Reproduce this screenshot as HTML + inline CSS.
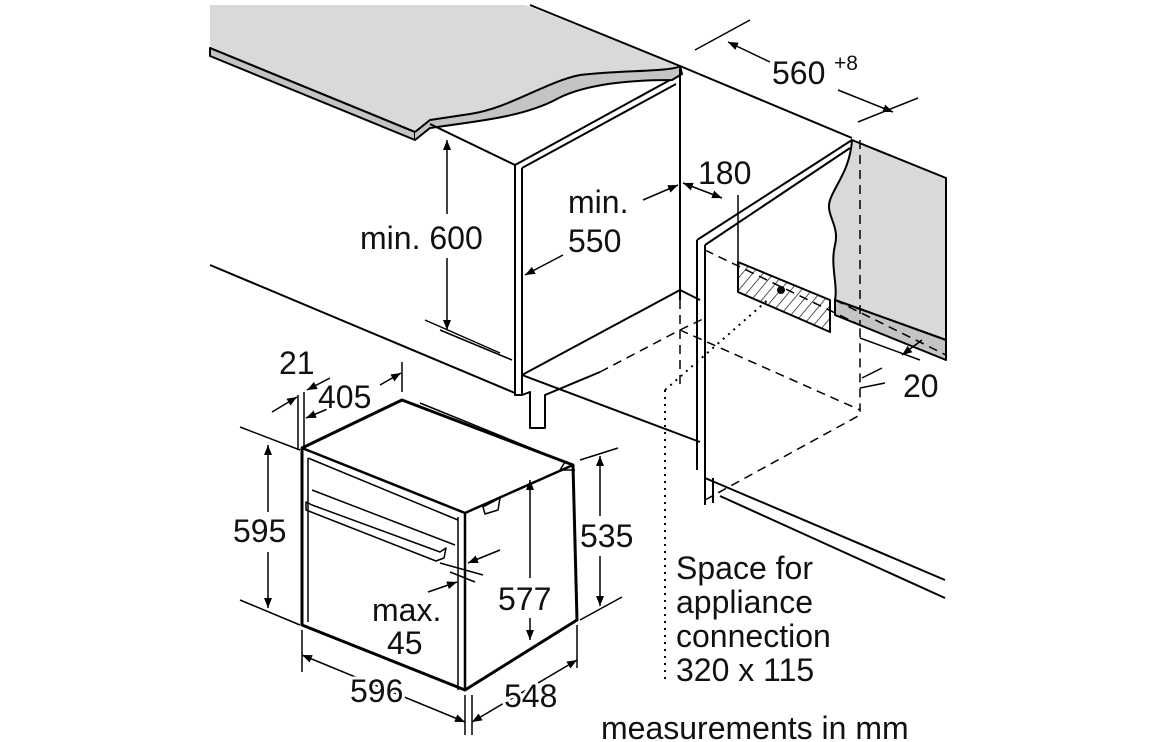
<!DOCTYPE html>
<html><head><meta charset="utf-8"><style>
html,body{margin:0;padding:0;background:#fff;}
svg{display:block;}
text{font-family:"Liberation Sans",sans-serif;font-size:32px;fill:#111;stroke:#fff;stroke-width:6px;paint-order:stroke;stroke-linejoin:round;}
</style></head><body>
<svg width="1156" height="742" viewBox="0 0 1156 742" xmlns="http://www.w3.org/2000/svg">
<defs>
<marker id="a" markerWidth="10" markerHeight="8" refX="10" refY="4" orient="auto" markerUnits="userSpaceOnUse"><path d="M0,0 L10,4 L0,8 z" fill="#000"/></marker>
<marker id="b" markerWidth="10" markerHeight="8" refX="0" refY="4" orient="auto" markerUnits="userSpaceOnUse"><path d="M10,0 L0,4 L10,8 z" fill="#000"/></marker>
<pattern id="h" width="8" height="8" patternUnits="userSpaceOnUse" patternTransform="rotate(40)"><line x1="0" y1="0" x2="0" y2="8" stroke="#000" stroke-width="1.3"/></pattern>
</defs>
<g stroke="#000" stroke-width="2" fill="none" stroke-linejoin="round">
<path d="M210,5 L525,5 L680,66 C684,72 678,76 670,78 C620,74 580,78 555,92 C520,112 470,118 430,124 L415,132 L210,48 Z" fill="#d9d9d9" stroke="none"/>
<path d="M210,48 L210,56 L415,140 L415,132 Z" fill="#c4c4c4"/>
<path d="M415,140 L430,128 C470,122 520,118 555,100 C580,86 620,80 672,80 L682,74 L680,66 C672,72 620,70 580,75 C545,82 510,108 470,114 L430,120 L415,132" fill="#c4c4c4"/>
<path d="M210,48 L415,132"/>
<path d="M530,5 L680,66"/>
<path d="M852,140 L946,178 L946,340 L835,300 C838,285 830,265 835,245 C840,225 825,215 830,200 C835,185 850,170 852,140 Z" fill="#d9d9d9"/>
<path d="M835,300 L835,315 L946,360 L946,340 Z" fill="#c4c4c4"/>
<path d="M680,66 L852,138"/>
<path d="M680,66 L680,300"/>
<path d="M430,124 L515,165"/>
<path d="M515,165 L670,80 M522,168 L676,84"/>
<path d="M515,165 L515,395 L522,395 L522,168"/>
<path d="M522,375 L680,290"/>
<path d="M522,375 L700,442"/>
<path d="M522,395 L530,392 L530,428 L545,428 L545,395 L600,372"/>
<path d="M210,265 L515,393"/>
<path d="M440,330 L512,360" stroke-width="1.5"/>
<path d="M680,290 L700,300"/>
<path d="M697,240 L852,140 M705,245 L850,148"/>
<path d="M697,240 L697,470 M705,245 L705,505"/>
<path d="M705,478 L945,580"/>
<path d="M720,496 L945,598"/>
<path d="M713,478 L713,503"/>
<g stroke-dasharray="9,6" stroke-width="1.5">
<path d="M680,300 L680,390"/>
<path d="M600,372 L680,330 L860,410 L860,325"/>
<path d="M705,250 L860,325"/>
<path d="M705,500 L860,415 L860,410"/>
<path d="M680,330 L705,318"/>
<path d="M860,140 L860,325"/>
<path d="M835,300 L946,355"/>
</g>
<g stroke-dasharray="2,5" stroke-width="2">
<path d="M665,390 L665,680"/>
<path d="M665,390 L770,298"/>
</g>
<path d="M738,262 L830,300 L830,332 L738,292 Z" fill="url(#h)"/>
<circle cx="781" cy="290" r="3" fill="#000"/>
<path d="M738,262 L738,195" stroke-width="1.5"/>
<path d="M302,448 L402,400 L573,465 L577,620 L465,690 L302,625 Z" fill="#fff" stroke-width="3"/>
<path d="M302,448 L465,513 L573,465 M465,513 L465,690" stroke-width="2.5"/>
<path d="M458,517 L458,690" stroke-width="1.5"/>
<path d="M308,458 L458,520 M308,458 L308,622" stroke-width="1.5"/>
<path d="M312,490 L455,545" stroke-width="1.5"/>
<path d="M306,502 L312,505 L440,552 L446,548 L444,558 L436,561 L306,510 Z" stroke-width="1.5"/>
<path d="M420,403 L565,462 L560,470 L575,470" stroke-width="1.5"/>
<path d="M483,507 L500,498 L498,510 L485,514 Z" stroke-width="1.5"/>
<g stroke-width="1.5">
<path d="M447,140 L447,214" marker-start="url(#b)"/>
<path d="M447,258 L447,330" marker-end="url(#a)"/>
<path d="M425,320 L500,353"/>
<path d="M643,200 L678,185" marker-end="url(#a)"/>
<path d="M563,255 L525,275" marker-end="url(#a)"/>
<path d="M683,183 L722,198" marker-start="url(#b)" marker-end="url(#a)"/>
<path d="M695,50 L750,20 M858,122 L918,98"/>
<path d="M728,42 L770,62" marker-start="url(#b)"/>
<path d="M838,90 L893,112" marker-end="url(#a)"/>
<path d="M860,338 L920,360 M885,383 L860,388"/>
<path d="M922,340 L902,355" marker-end="url(#a)"/>
<path d="M882,368 L862,378"/>
<path d="M298,395 L298,450 M304,392 L304,450"/>
<path d="M272,412 L297,397" marker-end="url(#a)"/>
<path d="M330,378 L307,390" marker-end="url(#a)"/>
<path d="M330,408 L306,418" marker-end="url(#a)"/>
<path d="M380,385 L401,373" marker-end="url(#a)"/>
<path d="M402,362 L402,392"/>
<path d="M240,427 L300,450 M240,600 L300,625"/>
<path d="M268,445 L268,512" marker-start="url(#b)"/>
<path d="M268,552 L268,608" marker-end="url(#a)"/>
<path d="M580,460 L618,448 M580,620 L622,597"/>
<path d="M600,456 L600,516" marker-start="url(#b)"/>
<path d="M600,556 L600,606" marker-end="url(#a)"/>
<path d="M530,480 L530,578" marker-start="url(#b)"/>
<path d="M530,618 L530,640" marker-end="url(#a)"/>
<path d="M302,630 L302,672 M577,625 L577,668 M465,695 L465,735 M472,695 L472,735"/>
<path d="M302,655 L465,722" marker-start="url(#b)" marker-end="url(#a)"/>
<path d="M472,722 L577,660" marker-start="url(#b)" marker-end="url(#a)"/>
<path d="M440,563 L483,575 M450,572 L475,582"/>
<path d="M500,550 L468,563" marker-end="url(#a)"/>
<path d="M428,592 L457,582" marker-end="url(#a)"/>
</g>
</g>
<g>
<text x="772" y="84">560</text><text x="834" y="70" style="font-size:21px">+8</text>
<text x="698" y="184">180</text>
<text x="568" y="213">min.</text>
<text x="568" y="252">550</text>
<text x="360" y="249">min. 600</text>
<text x="279" y="374">21</text>
<text x="318" y="408">405</text>
<text x="233" y="542">595</text>
<text x="580" y="547">535</text>
<text x="498" y="610">577</text>
<text x="372" y="621">max.</text>
<text x="387" y="654">45</text>
<text x="350" y="702">596</text>
<text x="504" y="707">548</text>
<text x="903" y="397">20</text>
<text x="676" y="579">Space for</text>
<text x="676" y="613">appliance</text>
<text x="676" y="647">connection</text>
<text x="676" y="681">320 x 115</text>
<text x="601" y="739">measurements in mm</text>
</g>
</svg>
</body></html>
